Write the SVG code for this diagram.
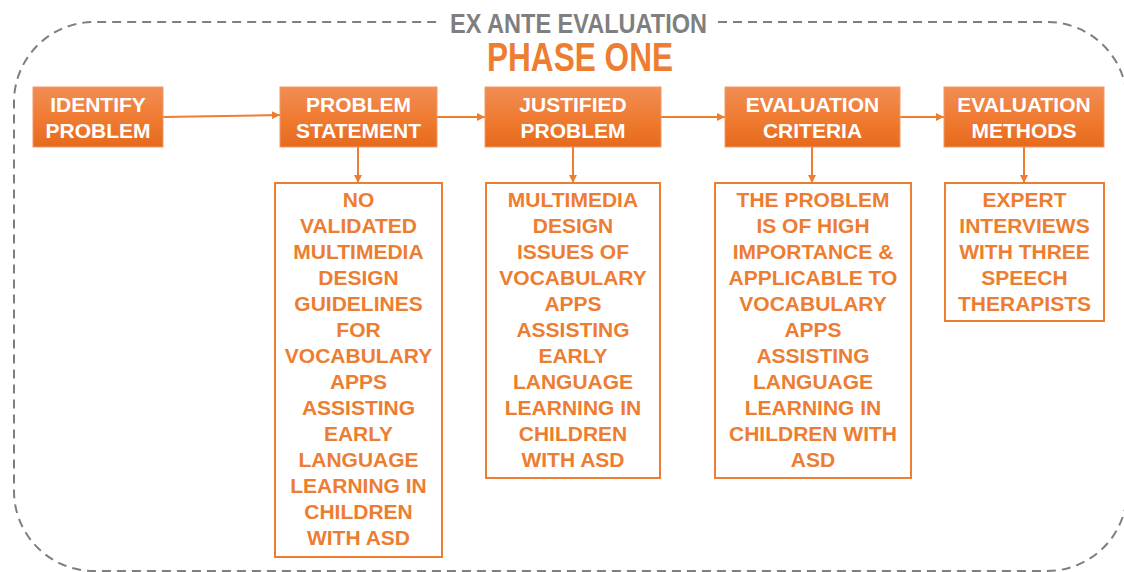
<svg xmlns="http://www.w3.org/2000/svg" width="1124" height="572" viewBox="0 0 1124 572">
<defs>
<linearGradient id="hg" x1="0" y1="0" x2="0" y2="1">
<stop offset="0" stop-color="#F18D55"/>
<stop offset="0.5" stop-color="#F07C33"/>
<stop offset="1" stop-color="#E66A1C"/>
</linearGradient>
<marker id="ah" viewBox="0 0 10 10" refX="10" refY="5" markerWidth="4" markerHeight="4" orient="auto" markerUnits="strokeWidth">
<path d="M0,0 L10,5 L0,10 z" fill="#ED7D31"/>
</marker>
<style>
.hdr{fill:url(#hg);stroke:#F09A66;stroke-width:1}
.ht{font-family:"Liberation Sans",Arial,sans-serif;font-weight:bold;font-size:21px;fill:#FFFFFF;text-anchor:middle}
.db{fill:#FFFFFF;stroke:#ED7D31;stroke-width:2}
.dt{font-family:"Liberation Sans",Arial,sans-serif;font-weight:bold;font-size:21px;fill:#ED7D31;text-anchor:middle}
.cn{fill:none;stroke:#ED7D31;stroke-width:2;marker-end:url(#ah)}
.frame{fill:none;stroke:#7F7F7F;stroke-width:2;stroke-dasharray:9 6}
</style>
</defs>
<rect width="1124" height="572" fill="#FFFFFF"/>
<path class="frame" d="M718,22 L1047,22 A80,80 0 0 1 1127,102 L1127,491 A80,80 0 0 1 1047,571 L94,571 A80,80 0 0 1 14,491 L14,102 A80,80 0 0 1 94,22 L440,22"/>
<text x="578.5" y="33" font-family="Liberation Sans, Arial, sans-serif" font-weight="bold" font-size="28" fill="#7F7F7F" text-anchor="middle" textLength="257" lengthAdjust="spacingAndGlyphs">EX ANTE EVALUATION</text>
<text x="580" y="71" font-family="Liberation Sans, Arial, sans-serif" font-weight="bold" font-size="40" fill="#ED7D31" text-anchor="middle" textLength="186" lengthAdjust="spacingAndGlyphs">PHASE ONE</text>
<g id="connectors">
<path class="cn" d="M163,117 L280,115"/>
<path class="cn" d="M437,117 L485,117"/>
<path class="cn" d="M661,117 L725,117"/>
<path class="cn" d="M900,117 L944,117"/>
<path class="cn" d="M358,147 L358,183"/>
<path class="cn" d="M573,147 L573,183"/>
<path class="cn" d="M812,147 L812,183"/>
<path class="cn" d="M1024,147 L1024,183"/>
</g>
<g id="identify">
<rect class="hdr" x="33" y="87" width="130" height="60"/>
<text class="ht" x="98" y="112">IDENTIFY</text>
<text class="ht" x="98" y="138">PROBLEM</text>
</g>
<g id="statement">
<rect class="hdr" x="280" y="87" width="157" height="60"/>
<text class="ht" x="358.5" y="112">PROBLEM</text>
<text class="ht" x="358.5" y="138">STATEMENT</text>
</g>
<g id="justified">
<rect class="hdr" x="485" y="87" width="176" height="60"/>
<text class="ht" x="573" y="112">JUSTIFIED</text>
<text class="ht" x="573" y="138">PROBLEM</text>
</g>
<g id="criteria">
<rect class="hdr" x="725" y="87" width="175" height="60"/>
<text class="ht" x="812.5" y="112">EVALUATION</text>
<text class="ht" x="812.5" y="138">CRITERIA</text>
</g>
<g id="methods">
<rect class="hdr" x="944" y="87" width="160" height="60"/>
<text class="ht" x="1024" y="112">EVALUATION</text>
<text class="ht" x="1024" y="138">METHODS</text>
</g>
<g id="desc-statement">
<rect class="db" x="275" y="183" width="167" height="374"/>
<text class="dt" x="358.5" y="207">NO</text>
<text class="dt" x="358.5" y="233">VALIDATED</text>
<text class="dt" x="358.5" y="259">MULTIMEDIA</text>
<text class="dt" x="358.5" y="285">DESIGN</text>
<text class="dt" x="358.5" y="311">GUIDELINES</text>
<text class="dt" x="358.5" y="337">FOR</text>
<text class="dt" x="358.5" y="363">VOCABULARY</text>
<text class="dt" x="358.5" y="389">APPS</text>
<text class="dt" x="358.5" y="415">ASSISTING</text>
<text class="dt" x="358.5" y="441">EARLY</text>
<text class="dt" x="358.5" y="467">LANGUAGE</text>
<text class="dt" x="358.5" y="493">LEARNING IN</text>
<text class="dt" x="358.5" y="519">CHILDREN</text>
<text class="dt" x="358.5" y="545">WITH ASD</text>
</g>
<g id="desc-justified">
<rect class="db" x="486" y="183" width="174" height="295"/>
<text class="dt" x="573" y="207">MULTIMEDIA</text>
<text class="dt" x="573" y="233">DESIGN</text>
<text class="dt" x="573" y="259">ISSUES OF</text>
<text class="dt" x="573" y="285">VOCABULARY</text>
<text class="dt" x="573" y="311">APPS</text>
<text class="dt" x="573" y="337">ASSISTING</text>
<text class="dt" x="573" y="363">EARLY</text>
<text class="dt" x="573" y="389">LANGUAGE</text>
<text class="dt" x="573" y="415">LEARNING IN</text>
<text class="dt" x="573" y="441">CHILDREN</text>
<text class="dt" x="573" y="467">WITH ASD</text>
</g>
<g id="desc-criteria">
<rect class="db" x="715" y="183" width="196" height="295"/>
<text class="dt" x="813" y="207">THE PROBLEM</text>
<text class="dt" x="813" y="233">IS OF HIGH</text>
<text class="dt" x="813" y="259">IMPORTANCE &amp;</text>
<text class="dt" x="813" y="285">APPLICABLE TO</text>
<text class="dt" x="813" y="311">VOCABULARY</text>
<text class="dt" x="813" y="337">APPS</text>
<text class="dt" x="813" y="363">ASSISTING</text>
<text class="dt" x="813" y="389">LANGUAGE</text>
<text class="dt" x="813" y="415">LEARNING IN</text>
<text class="dt" x="813" y="441">CHILDREN WITH</text>
<text class="dt" x="813" y="467">ASD</text>
</g>
<g id="desc-methods">
<rect class="db" x="945" y="183" width="159" height="138"/>
<text class="dt" x="1024.5" y="207">EXPERT</text>
<text class="dt" x="1024.5" y="233">INTERVIEWS</text>
<text class="dt" x="1024.5" y="259">WITH THREE</text>
<text class="dt" x="1024.5" y="285">SPEECH</text>
<text class="dt" x="1024.5" y="311">THERAPISTS</text>
</g>
</svg>
